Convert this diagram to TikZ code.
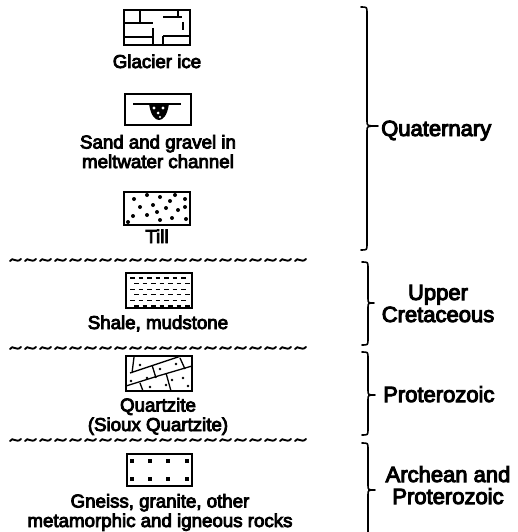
\documentclass[tikz,border=0pt]{standalone}
\usepackage{fontspec}
\setmainfont{Liberation Sans}[RawFeature={embolden=4.5}]
\begin{document}
\begin{tikzpicture}[x=1pt,y=-1pt,
  rockbox/.style={draw,line width=1.8pt},
  pat/.style={line width=1.3pt},
  lbl/.style={inner sep=0pt,anchor=base,align=center,font=\fontsize{18.7}{19.5}\selectfont},
  age/.style={inner sep=0pt,anchor=base,align=center,font=\fontsize{22}{22}\selectfont},
  brace/.style={line width=1.6pt,line cap=round,line join=round},
  wave/.style={line width=1.9pt,line cap=round}]
\useasboundingbox (0,0) rectangle (517,532);

% ---------- Glacier ice
\draw[rockbox] (124,10) rectangle (190,45);
\draw[pat] (140,10) -- (140,23) (124,23) -- (153,23)
  (163,17) -- (182,17) (178,10) -- (178,17) (183,22) -- (183,30)
  (153,28) -- (153,45) (124,37) -- (153,37) (163,36) -- (190,36) (163,36) -- (163,45);
\node[lbl] (gi) at (157,68) {Glacier ice};

% ---------- Sand and gravel
\draw[rockbox] (125,94) rectangle (191,125);
\draw[pat] (133,104) -- (181,104);
\fill (149,104) .. controls (151,116) and (155,120) .. (159,120) .. controls (163,120) and (167,116) .. (169,104) -- cycle;
\fill[white] (154,108) circle (1.6) (163,108) circle (1.6) (158,113) circle (1.5) (160,117) circle (1.1);
\node[lbl] (sg) at (158,168) {Sand and gravel in\\meltwater channel};

% ---------- Till
\draw[rockbox] (124,192) rectangle (190,225);
\foreach \p in {(134,199),(147,195),(160,197),(175,195),(185,199),(140,207),(153,205),(166,208),(178,210),
  (133,216),(147,215),(160,220),(172,218),(186,219),(128,222),(157,212),(185,207),(170,201)}
  \fill \p circle (2);
\node[lbl] (till) at (157,243) {Till};

% ---------- wavy line 1
\foreach \i in {0,...,19}
  \draw[wave] ({10+15*\i},261) .. controls ({13+15*\i},256) and ({16+15*\i},264) .. ({21+15*\i},259);

% ---------- Shale
\draw[rockbox] (126,273) rectangle (192,308);
\foreach \r in {0,...,5}{
  \pgfmathsetmacro{\yy}{278+5.6*\r}
  \pgfmathsetmacro{\off}{mod(\r,2)*4}
  \foreach \k in {0,...,6}
    \draw[line width=1.3pt] ({130+\off+8.5*\k},\yy) -- ({134.5+\off+8.5*\k},\yy);
}
\node[lbl] (sh) at (158,329) {Shale, mudstone};

% ---------- wavy line 2
\foreach \i in {0,...,19}
  \draw[wave] ({10+15*\i},349) .. controls ({13+15*\i},344) and ({16+15*\i},352) .. ({21+15*\i},347);

% ---------- Quartzite
\draw[rockbox] (126,356) rectangle (192,391);
\draw[pat] (126,386) -- (158,376) -- (192,366)
  (130,373) -- (163,362) -- (181,356)
  (134,357) -- (132,373) (152,365) -- (156,378)
  (166,373) -- (171,391) (180,358) -- (185,369)
  (140,383) -- (143,391);
\foreach \p in {(140,365),(147,378),(160,369),(172,380),(183,378),(176,364),(150,387),(131,381),(188,386),(166,385)}
  \fill \p circle (1.3);
\node[lbl] (qz) at (158,431) {Quartzite\\(Sioux Quartzite)};

% ---------- wavy line 3
\foreach \i in {0,...,19}
  \draw[wave] ({10+15*\i},441) .. controls ({13+15*\i},436) and ({16+15*\i},444) .. ({21+15*\i},439);

% ---------- Gneiss
\draw[rockbox] (127,454) rectangle (192,486);
\foreach \xx in {132,150,168,187}
  \foreach \yy in {461,479}
    \fill (\xx-1.7,\yy-1.7) rectangle (\xx+1.7,\yy+1.7);
\node[lbl] (gn) at (160,527) {Gneiss, granite, other\\metamorphic and igneous rocks};

% ---------- Braces
\newcommand{\mybrace}[6]{% e, s, t, y0, ym, y1
  \draw[brace] (#1,#4) .. controls (#2,#4) .. (#2,#4+6) -- (#2,#5-5)
    .. controls (#2,#5) .. (#3,#5) .. controls (#2,#5) .. (#2,#5+5)
    -- (#2,#6-6) .. controls (#2,#6) .. (#1,#6);}
\mybrace{361}{367}{378}{7}{126}{250}
\mybrace{362}{368}{374}{262}{303}{345}
\mybrace{362}{368}{375}{352}{395}{435}
\mybrace{362}{368}{375}{443}{490}{536}

\node[age,anchor=base west] (q) at (381,136) {Quaternary};
\node[age] (uc) at (438,322) {Upper\\Cretaceous};
\node[age,anchor=base west] (pr) at (383,402) {Proterozoic};
\node[age] (ap) at (448,504) {Archean and\\Proterozoic};
\end{tikzpicture}
\end{document}
